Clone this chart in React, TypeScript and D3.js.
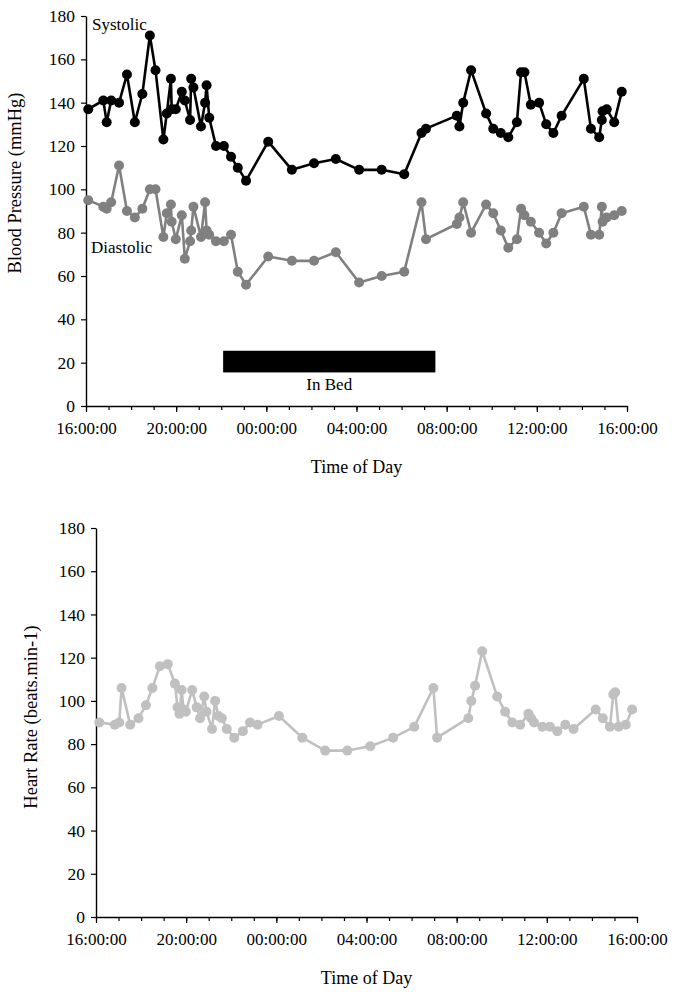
import { useEffect, useRef } from "react";
import * as d3 from "d3";

// Blood pressure readings (same cuff reading gives both values)
const bpTimes = [
  "16:06", "16:46", "16:55", "17:07", "17:28", "17:49", "18:10", "18:30", "18:50", "19:05",
  "19:26", "19:35", "19:46", "19:48", "19:59", "20:15", "20:23", "20:37", "20:40", "20:46",
  "21:06", "21:17", "21:21", "21:28", "21:46", "22:07", "22:26", "22:44", "23:06", "00:05",
  "01:08", "02:07", "03:05", "04:07", "05:07", "06:07", "06:53", "07:05", "08:27", "08:34",
  "08:44", "09:05", "09:45", "10:04", "10:24", "10:44", "11:07", "11:18", "11:27", "11:44",
  "12:06", "12:25", "12:44", "13:06", "14:05", "14:24", "14:46", "14:53", "14:55", "15:06",
  "15:26", "15:46",
];
const systolic = [
  137, 141, 131, 141, 140, 153, 131, 144, 171, 155,
  123, 135, 151, 137, 137, 145, 141, 132, 151, 147,
  129, 140, 148, 133, 120, 120, 115, 110, 104, 122,
  109, 112, 114, 109, 109, 107, 126, 128, 134, 129,
  140, 155, 135, 128, 126, 124, 131, 154, 154, 139,
  140, 130, 126, 134, 151, 128, 124, 132, 136, 137,
  131, 145,
];
const diastolic = [
  95, 92, 91, 94, 111, 90, 87, 91, 100, 100,
  78, 89, 93, 85, 77, 88, 68, 76, 81, 92,
  78, 94, 81, 79, 76, 76, 79, 62, 56, 69,
  67, 67, 71, 57, 60, 62, 94, 77, 84, 87,
  94, 80, 93, 89, 81, 73, 77, 91, 88, 85,
  80, 75, 80, 89, 92, 79, 79, 92, 85, 87,
  88, 90,
];

// Heart rate readings
const hrTimes = [
  "16:09", "16:50", "17:02", "17:08", "17:31", "17:53", "18:13", "18:30", "18:50", "19:11",
  "19:30", "19:37", "19:42", "19:48", "19:53", "19:59", "20:16", "20:28", "20:37", "20:48",
  "20:54", "21:09", "21:17", "21:26", "21:35", "21:48", "22:08", "22:31", "22:50", "23:10",
  "00:07", "01:09", "02:10", "03:09", "04:10", "05:11", "06:07", "06:58", "07:08", "08:31",
  "08:39", "08:49", "09:08", "09:48", "10:09", "10:28", "10:49", "11:11", "11:18", "11:26",
  "11:48", "12:08", "12:28", "12:49", "13:11", "14:10", "14:29", "14:48", "14:57", "15:02",
  "15:11", "15:30", "15:47",
];
const heartRate = [
  90, 89, 90, 106, 89, 92, 98, 106, 116, 117,
  108, 97, 94, 105, 96, 95, 105, 97, 92, 102,
  95, 87, 100, 93, 92, 87, 83, 86, 90, 89,
  93, 83, 77, 77, 79, 83, 88, 106, 83, 92,
  100, 107, 123, 102, 95, 90, 89, 94, 92, 90,
  88, 88, 86, 89, 87, 96, 92, 88, 103, 104,
  88, 89, 96,
];

const inBed = { start: "22:05", end: "07:30", low: 15.5, high: 25.5 };
const yTicks = [0, 20, 40, 60, 80, 100, 120, 140, 160, 180];

const FONT = "'Liberation Serif', 'Times New Roman', serif";

// clock time -> date within the 16:00 to 16:00 window
const toDate = (s: string) => {
  const [h, m] = s.split(":").map(Number);
  return new Date(2000, 0, h >= 16 ? 1 : 2, h, m);
};

interface Series {
  times: string[];
  values: number[];
  color: string;
}

function drawPanel(
  svg: d3.Selection<SVGSVGElement, unknown, null, undefined>,
  box: { left: number; top: number; right: number; bottom: number },
  series: Series[],
  yLabel: { text: string; x: number; y: number }
) {
  const x = d3
    .scaleTime()
    .domain([new Date(2000, 0, 1, 16), new Date(2000, 0, 2, 16)])
    .range([box.left, box.right]);
  const y = d3.scaleLinear().domain([0, 180]).range([box.bottom, box.top]);

  const g = svg.append("g");

  // Minor hourly ticks
  g.append("g")
    .attr("transform", `translate(0,${box.bottom})`)
    .call(
      d3
        .axisBottom(x)
        .ticks(d3.timeHour.every(1))
        .tickSize(4)
        .tickSizeOuter(0)
        .tickFormat(() => "")
    )
    .call((a) => a.select(".domain").remove())
    .selectAll("line")
    .attr("stroke", "#000")
    .attr("stroke-width", 1.2);

  // X axis
  const xa = g
    .append("g")
    .attr("transform", `translate(0,${box.bottom})`)
    .call(
      d3
        .axisBottom(x)
        .ticks(d3.timeHour.every(4))
        .tickSize(6)
        .tickSizeOuter(0)
        .tickPadding(10)
        .tickFormat((d) => d3.timeFormat("%H:%M:%S")(d as Date))
    );
  xa.select(".domain").attr("stroke", "#000").attr("stroke-width", 1.4);
  xa.selectAll("line").attr("stroke", "#000").attr("stroke-width", 1.2);
  xa.selectAll("text")
    .attr("fill", "#000")
    .attr("font-family", FONT)
    .attr("font-size", "17px");

  // Y axis
  const ya = g
    .append("g")
    .attr("transform", `translate(${box.left},0)`)
    .call(d3.axisLeft(y).tickValues(yTicks).tickSize(5).tickSizeOuter(0).tickPadding(6));
  ya.select(".domain").attr("stroke", "#000").attr("stroke-width", 1.4);
  ya.selectAll("line").attr("stroke", "#000").attr("stroke-width", 1.2);
  ya.selectAll("text")
    .attr("fill", "#000")
    .attr("font-family", FONT)
    .attr("font-size", "17.5px");

  // Axis titles
  g.append("text")
    .attr("x", (box.left + box.right) / 2)
    .attr("y", box.bottom + 67)
    .attr("text-anchor", "middle")
    .attr("font-family", FONT)
    .attr("font-size", "18px")
    .text("Time of Day");

  g.append("text")
    .attr("transform", `translate(${yLabel.x},${yLabel.y}) rotate(-90)`)
    .attr("text-anchor", "middle")
    .attr("font-family", FONT)
    .attr("font-size", "18.5px")
    .text(yLabel.text);

  // Series
  series.forEach((s) => {
    const pts = s.times.map((t, i) => ({ t: toDate(t), v: s.values[i] }));
    const line = d3
      .line<{ t: Date; v: number }>()
      .x((d) => x(d.t))
      .y((d) => y(d.v));
    g.append("path")
      .datum(pts)
      .attr("d", line)
      .attr("fill", "none")
      .attr("stroke", s.color)
      .attr("stroke-width", 2.6)
      .attr("stroke-linejoin", "round");
    g.append("g")
      .selectAll("circle")
      .data(pts)
      .join("circle")
      .attr("cx", (d) => x(d.t))
      .attr("cy", (d) => y(d.v))
      .attr("r", 5)
      .attr("fill", s.color);
  });

  return { x, y, g };
}

export default function App() {
  const svgRef = useRef<SVGSVGElement>(null);

  useEffect(() => {
    if (!svgRef.current) return;
    const svg = d3.select(svgRef.current);
    svg.selectAll("*").remove();

    // Blood pressure panel
    const top = drawPanel(
      svg,
      { left: 86, top: 16, right: 627, bottom: 406 },
      [
        { times: bpTimes, values: systolic, color: "#000000" },
        { times: bpTimes, values: diastolic, color: "#808080" },
      ],
      { text: "Blood Pressure (mmHg)", x: 21, y: 183 }
    );

    // In bed bar
    const x0 = top.x(toDate(inBed.start));
    const x1 = top.x(toDate(inBed.end));
    top.g
      .append("rect")
      .attr("x", x0)
      .attr("y", top.y(inBed.high))
      .attr("width", x1 - x0)
      .attr("height", top.y(inBed.low) - top.y(inBed.high))
      .attr("fill", "#000");
    top.g
      .append("text")
      .attr("x", (x0 + x1) / 2)
      .attr("y", top.y(inBed.low) + 18)
      .attr("text-anchor", "middle")
      .attr("font-family", FONT)
      .attr("font-size", "17px")
      .text("In Bed");

    top.g
      .append("text")
      .attr("x", 92)
      .attr("y", 30)
      .attr("font-family", FONT)
      .attr("font-size", "17px")
      .text("Systolic");
    top.g
      .append("text")
      .attr("x", 91)
      .attr("y", 253)
      .attr("font-family", FONT)
      .attr("font-size", "17px")
      .text("Diastolic");

    // Heart rate panel
    drawPanel(
      svg,
      { left: 96, top: 528, right: 637, bottom: 917 },
      [{ times: hrTimes, values: heartRate, color: "#c0c0c0" }],
      { text: "Heart Rate (beats.min-1)", x: 37, y: 717 }
    );
  }, []);

  return (
    <svg
      ref={svgRef}
      width={686}
      height={992}
      style={{ position: "absolute", left: 0, top: 0, background: "#fff" }}
    />
  );
}
